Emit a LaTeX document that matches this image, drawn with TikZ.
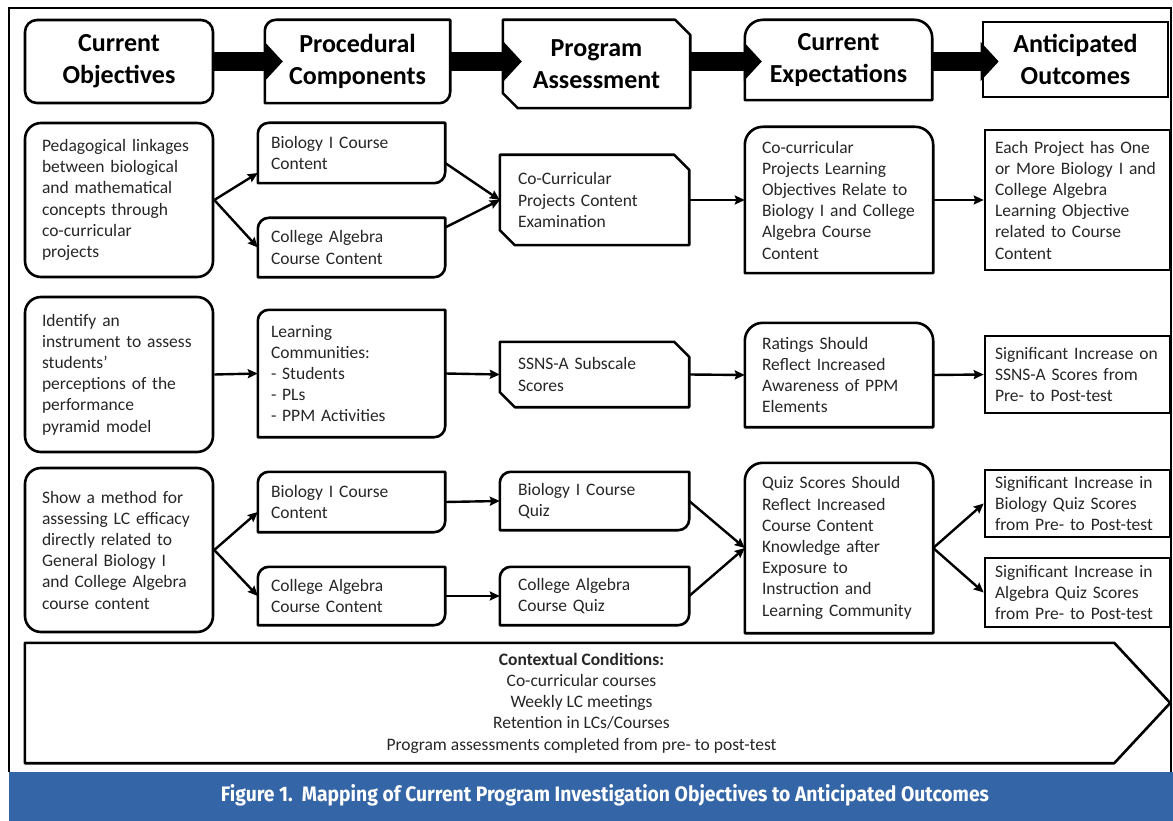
\documentclass[tikz,border=0pt]{standalone}
\usepackage{fontspec}
\setmainfont{Carlito}
\newfontfamily\capfont{Fira Sans}
\usetikzlibrary{positioning}
\usetikzlibrary{arrows.meta}
\definecolor{capblue}{RGB}{52,101,166}

\begin{document}
\begin{tikzpicture}[
    x=1pt, y=1pt,
    head/.style={font=\bfseries\fontsize{26}{32}\selectfont, align=center, inner sep=0pt},
    body/.style={font=\fontsize{17.5}{21.2}\selectfont, text=black!85, align=left, inner ysep=0pt},
    boxline/.style={line width=2.6pt, line join=round},
    roundbox/.style={draw, line width=2.6pt, rounded corners=16pt},
    plainbox/.style={draw, line width=2.6pt},
    col1/.style={body, text width=154pt, inner xsep=17pt},
    col2/.style={body, text width=161pt, inner xsep=13pt},
    col3/.style={body, text width=153pt, inner xsep=18pt},
    col4/.style={body, text width=154pt, inner xsep=17pt},
    col5/.style={body, text width=165pt, inner xsep=10pt},
    line/.style={line width=2.4pt, -{Stealth[length=10pt,width=9pt,inset=1.5pt]}},
    bigarrow/.style={line width=19pt, -{Triangle[length=18pt,width=38pt]}},
]
    \useasboundingbox (0,0) rectangle (1173,-821);
    %frame and caption bar
    \draw[line width=1.2pt] (9,-772) -- (9,-8) -- (1171,-8) -- (1171,-772);
    \fill[capblue] (9,-772) rectangle (1173,-821);
    \node[text=white, inner sep=0pt] (caption) at (605,-795)
        {\resizebox{768pt}{17pt}{\capfont\bfseries Figure 1.\ \ Mapping of Current Program Investigation Objectives to Anticipated Outcomes}};

    %header nodes
    \node[head, roundbox, rounded corners=12pt, minimum width=188pt, minimum height=83pt] (obj0) at (119,-61.5) {Current\\Objectives};
    \node[head, minimum width=185pt, minimum height=83pt] (proc0) at (357.5,-61.5) {Procedural\\Components};
    \node[head, minimum width=187pt, minimum height=88pt] (assess0) at (596.5,-64) {Program\\Assessment};
    \node[head, minimum width=187pt, minimum height=80pt] (expect0) at (838.5,-60) {Current\\Expectations};
    \node[head, plainbox, minimum width=185pt, minimum height=75pt] (outc0) at (1075.5,-59.5) {Anticipated\\Outcomes};

    %row 1
    \node[col1, roundbox, minimum height=154pt] (obj1) at (119,-200)
        {Pedagogical linkages\\between biological\\and mathematical\\concepts through\\co-curricular\\projects};
    \node[col2, minimum height=60pt] (proc1a) at (351.5,-153) {Biology I Course\\Content};
    \node[col2, minimum height=59pt] (proc1b) at (351.5,-247.5) {College Algebra\\Course Content};
    \node[col3, minimum height=90pt] (assess1) at (594.5,-200) {Co-Curricular\\Projects Content\\Examination};
    \node[col4, minimum height=146pt] (expect1) at (839,-200)
        {Co-curricular\\Projects Learning\\Objectives Relate to\\Biology I and College\\Algebra Course\\Content};
    \node[col5, plainbox, minimum height=140pt] (outc1) at (1077.5,-200)
        {Each Project has One\\or More Biology I and\\College Algebra\\Learning Objective\\related to Course\\Content};

    %row 2
    \node[col1, roundbox, minimum height=155pt] (obj2) at (119,-374.5)
        {Identify an\\instrument to assess\\students’\\perceptions of the\\performance\\pyramid model};
    \node[col2, minimum height=127pt] (proc2) at (351.5,-373.5)
        {Learning\\Communities:\\- Students\\- PLs\\- PPM Activities};
    \node[col3, minimum height=65pt] (assess2) at (594.5,-374.5) {SSNS-A Subscale\\Scores};
    \node[col4, minimum height=104pt] (expect2) at (839,-375)
        {Ratings Should\\Reflect Increased\\Awareness of PPM\\Elements};
    \node[col5, plainbox, minimum height=77pt] (outc2) at (1077.5,-374.5)
        {Significant Increase on\\SSNS-A Scores from\\Pre- to Post-test};

    %row 3
    \node[col1, roundbox, minimum height=164pt] (obj3) at (119,-550)
        {Show a method for\\assessing LC efficacy\\directly related to\\General Biology I\\and College Algebra\\course content};
    \node[col2, minimum height=60pt] (proc3a) at (351.5,-502) {Biology I Course\\Content};
    \node[col2, minimum height=58pt] (proc3b) at (351.5,-596) {College Algebra\\Course Content};
    \node[col3, minimum height=58pt] (assess3a) at (594.5,-501) {Biology I Course\\Quiz};
    \node[col3, minimum height=58pt] (assess3b) at (594.5,-596) {College Algebra\\Course Quiz};
    \node[col4, minimum height=170pt] (expect3) at (839,-548)
        {Quiz Scores Should\\Reflect Increased\\Course Content\\Knowledge after\\Exposure to\\Instruction and\\Learning Community};
    \node[col5, plainbox, minimum height=67pt] (outc3a) at (1077.5,-503.5)
        {Significant Increase in\\Biology Quiz Scores\\from Pre- to Post-test};
    \node[col5, plainbox, minimum height=69pt] (outc3b) at (1077.5,-592.5)
        {Significant Increase in\\Algebra Quiz Scores\\from Pre- to Post-test};

    %contextual conditions
    \node[minimum width=1089pt, minimum height=120pt, inner sep=0pt] (ctx) at (569.5,-703) {};
    \draw[boxline] (ctx.north west) -- (ctx.north east) -- ([xshift=56pt]ctx.east) -- (ctx.south east) -- (ctx.south west) -- cycle;
    \node[body, align=center] (ctxtext) at ([xshift=12pt]ctx.center)
        {\textbf{Contextual Conditions:}\\Co-curricular courses\\Weekly LC meetings\\Retention in LCs/Courses\\Program assessments completed from pre- to post-test};

    %outlines
    \foreach \n in {proc0,proc1a,proc1b,proc2,proc3a,proc3b,assess3a,assess3b}
        \draw[boxline] (\n.south west) -- ([yshift=-11pt]\n.north west) arc[start angle=180,end angle=90,radius=11pt]
            -- (\n.north east) -- ([yshift=11pt]\n.south east) arc[start angle=0,end angle=-90,radius=11pt] -- cycle;
    \foreach \n in {assess0,assess1,assess2}
        \draw[boxline] ([yshift=15pt]\n.south west) -- (\n.north west) -- ([xshift=-15pt]\n.north east)
            -- ([yshift=-15pt]\n.north east) -- (\n.south east) -- ([xshift=15pt]\n.south west) -- cycle;
    \foreach \n in {expect0,expect1,expect2,expect3}
        \draw[boxline] (\n.south west) -- ([yshift=-18pt]\n.north west) arc[start angle=180,end angle=90,radius=18pt]
            -- ([xshift=-18pt]\n.north east) arc[start angle=90,end angle=0,radius=18pt] -- (\n.south east) -- cycle;

    %lines
    \draw[bigarrow] (obj0.east) -- ([xshift=18pt]proc0.west);
    \draw[bigarrow] (proc0.east) -- ([xshift=19pt]assess0.west |- obj0.east);
    \draw[bigarrow] (assess0.east |- obj0.east) -- ([xshift=17pt]expect0.west |- obj0.east);
    \draw[bigarrow] (expect0.east |- obj0.east) -- ([xshift=17pt]outc0.west |- obj0.east);

    \draw[line] (obj1.east) -- ([yshift=-20pt]proc1a.west);
    \draw[line] (obj1.east) -- (proc1b.west);
    \draw[line] ([yshift=-10pt]proc1a.east) -- (assess1.west);
    \draw[line] ([yshift=20pt]proc1b.east) -- (assess1.west);
    \draw[line] (assess1.east) -- (expect1.west);
    \draw[line] (expect1.east) -- (outc1.west);

    \draw[line] (obj2.east) -- (proc2.west);
    \draw[line] (proc2.east) -- (assess2.west);
    \draw[line] (assess2.east) -- (expect2.west);
    \draw[line] (expect2.east) -- (outc2.west);

    \draw[line] (obj3.east) -- ([yshift=-10pt]proc3a.west);
    \draw[line] (obj3.east) -- (proc3b.west);
    \draw[line] (proc3a.east) -- (assess3a.west);
    \draw[line] (proc3b.east) -- (assess3b.west);
    \draw[line] (assess3a.east) -- (expect3.west);
    \draw[line] (assess3b.east) -- (expect3.west);
    \draw[line] (expect3.east) -- (outc3a.west);
    \draw[line] (expect3.east) -- (outc3b.west);
\end{tikzpicture}
\end{document}
